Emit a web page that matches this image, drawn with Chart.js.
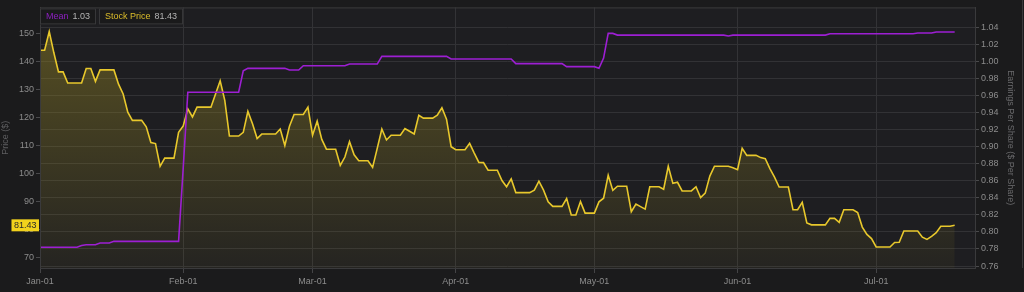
<!DOCTYPE html>
<html>
<head>
<meta charset="utf-8">
<script src="https://cdn.jsdelivr.net/npm/chart.js@4"></script>
<style>
  html, body { margin: 0; padding: 0; background: #1b1b1c; }
  #wrap { width: 1024px; height: 292px; }
</style>
</head>
<body>
<div id="wrap"><canvas id="chart" width="1024" height="292"></canvas></div>
<script>
// 每日股价 (Jan-01 起, 按日)
const stockPrice = [
    143.9, 143.9, 150.6, 143.0, 136.2, 136.2, 132.2, 132.2, 132.2, 132.2,
    137.4, 137.4, 132.8, 136.9, 136.9, 136.9, 136.9, 131.8, 128.3, 121.8,
    118.9, 118.9, 118.9, 116.6, 111.0, 110.6, 102.5, 105.4, 105.4, 105.4,
    114.6, 116.9, 123.0, 120.1, 123.6, 123.6, 123.6, 123.6, 128.3, 133.0,
    126.0, 113.3, 113.3, 113.3, 114.6, 122.1, 117.7, 112.4, 114.0, 114.0,
    114.0, 114.0, 115.8, 109.9, 116.8, 121.0, 121.0, 121.0, 123.6, 113.6,
    118.6, 112.1, 108.6, 108.6, 108.6, 102.8, 105.8, 111.3, 106.6, 104.5,
    104.5, 104.5, 102.1, 108.9, 115.8, 111.9, 113.6, 113.6, 113.6, 116.0,
    115.0, 114.0, 120.7, 119.7, 119.7, 119.7, 120.7, 123.4, 119.3, 109.5,
    108.4, 108.4, 108.4, 110.7, 107.2, 103.9, 103.8, 101.1, 101.1, 101.1,
    97.4, 95.2, 98.0, 93.1, 93.1, 93.1, 93.1, 94.0, 97.2, 94.0,
    89.8, 88.2, 88.2, 88.2, 91.0, 85.1, 85.1, 89.9, 85.8, 85.8,
    85.8, 89.8, 91.1, 99.3, 93.9, 95.4, 95.4, 95.4, 86.3, 89.0,
    88.1, 87.2, 95.2, 95.2, 95.2, 94.3, 102.5, 96.4, 96.8, 93.7,
    93.7, 93.7, 95.2, 91.3, 92.9, 99.0, 102.5, 102.5, 102.5, 102.5,
    102.0, 101.3, 108.9, 106.4, 106.4, 106.4, 105.6, 105.2, 101.7, 98.6,
    95.1, 95.1, 95.1, 87.0, 87.0, 89.6, 82.3, 81.6, 81.6, 81.6,
    81.6, 83.9, 83.9, 82.5, 87.0, 87.0, 87.0, 86.0, 80.8, 78.2,
    76.7, 73.7, 73.7, 73.7, 73.7, 75.3, 75.4, 79.4, 79.4, 79.4,
    79.4, 77.2, 76.4, 77.5, 78.8, 81.1, 81.1, 81.1, 81.43
];

// 每股收益均值 (按日)
const meanEps = [
    0.782, 0.782, 0.782, 0.782, 0.782, 0.782, 0.782, 0.782, 0.782, 0.784,
    0.785, 0.785, 0.785, 0.787, 0.787, 0.787, 0.789, 0.789, 0.789, 0.789,
    0.789, 0.789, 0.789, 0.789, 0.789, 0.789, 0.789, 0.789, 0.789, 0.789,
    0.789, 0.875, 0.964, 0.964, 0.964, 0.964, 0.964, 0.964, 0.964, 0.964,
    0.964, 0.964, 0.964, 0.964, 0.989, 0.992, 0.992, 0.992, 0.992, 0.992,
    0.992, 0.992, 0.992, 0.992, 0.990, 0.990, 0.990, 0.995, 0.995, 0.995,
    0.995, 0.995, 0.995, 0.995, 0.995, 0.995, 0.995, 0.997, 0.997, 0.997,
    0.997, 0.997, 0.997, 0.997, 1.006, 1.006, 1.006, 1.006, 1.006, 1.006,
    1.006, 1.006, 1.006, 1.006, 1.006, 1.006, 1.006, 1.006, 1.006, 1.003,
    1.003, 1.003, 1.003, 1.003, 1.003, 1.003, 1.003, 1.003, 1.003, 1.003,
    1.003, 1.003, 1.003, 0.9975, 0.9975, 0.9975, 0.9975, 0.9975, 0.9975, 0.9975,
    0.9975, 0.9975, 0.9975, 0.9975, 0.994, 0.994, 0.994, 0.994, 0.994, 0.994,
    0.994, 0.992, 1.004, 1.033, 1.033, 1.031, 1.031, 1.031, 1.031, 1.031,
    1.031, 1.031, 1.031, 1.031, 1.031, 1.031, 1.031, 1.031, 1.031, 1.031,
    1.031, 1.031, 1.031, 1.031, 1.031, 1.031, 1.031, 1.031, 1.031, 1.030,
    1.031, 1.031, 1.031, 1.031, 1.031, 1.031, 1.031, 1.031, 1.031, 1.031,
    1.031, 1.031, 1.031, 1.031, 1.031, 1.031, 1.031, 1.031, 1.031, 1.031,
    1.031, 1.0326, 1.0326, 1.0326, 1.0326, 1.0326, 1.0326, 1.0326, 1.0326, 1.0326,
    1.0326, 1.0326, 1.0326, 1.0326, 1.0326, 1.0326, 1.0326, 1.0326, 1.0326, 1.0326,
    1.0334, 1.0334, 1.0334, 1.0334, 1.0346, 1.0346, 1.0346, 1.0346, 1.0346
];

// 月份刻度 (从 Jan-01 起的天数)
const monthDays = [0, 31, 59, 90, 120, 151, 181];
const monthLabels = ['Jan-01', 'Feb-01', 'Mar-01', 'Apr-01', 'May-01', 'Jun-01', 'Jul-01'];
const priceTicks = [70, 80, 90, 100, 110, 120, 130, 140, 150];
const epsTicks = [0.76, 0.78, 0.80, 0.82, 0.84, 0.86, 0.88, 0.90, 0.92, 0.94, 0.96, 0.98, 1.00, 1.02, 1.04];

const FONT = '"Liberation Sans", Arial, sans-serif';
const YELLOW = '#e8c82c';
const PURPLE = '#9d1fd3';

const pricePoints = stockPrice.map((v, i) => ({ x: i, y: v }));
const meanPoints = meanEps.map((v, i) => ({ x: i, y: v }));

// 绘图区背景和边框
const framePlugin = {
    id: 'frame',
    beforeDraw(chart) {
        const { ctx, chartArea: a } = chart;
        ctx.save();
        ctx.fillStyle = '#1e1e21';
        ctx.fillRect(a.left, a.top, a.right - a.left, a.bottom - a.top);
        ctx.restore();
    },
    afterDraw(chart) {
        const { ctx, chartArea: a, scales } = chart;
        ctx.save();
        ctx.strokeStyle = '#3a3a3c';
        ctx.lineWidth = 1;
        ctx.strokeRect(a.left + 0.5, a.top + 0.5, a.right - a.left, a.bottom - a.top);

        // 右侧面板边线
        ctx.beginPath();
        ctx.moveTo(chart.width - 1.5, 0);
        ctx.lineTo(chart.width - 1.5, a.bottom);
        ctx.stroke();

        // 图例框
        ctx.font = '9px ' + FONT;
        ctx.textBaseline = 'middle';
        const items = [
            { name: 'Mean', color: '#8c1fc0', value: meanEps[meanEps.length - 1].toFixed(2) },
            { name: 'Stock Price', color: '#dcbd2a', value: stockPrice[stockPrice.length - 1].toFixed(2) }
        ];
        let x = a.left;
        const y = a.top + 1, h = 16;
        items.forEach(it => {
            const w1 = ctx.measureText(it.name).width;
            const w2 = ctx.measureText(it.value).width;
            const w = 6 + w1 + 4 + w2 + 6;
            ctx.fillStyle = '#1a1a1b';
            ctx.fillRect(x, y, w, h);
            ctx.strokeStyle = '#39393b';
            ctx.strokeRect(x + 0.5, y + 0.5, w - 1, h - 1);
            ctx.fillStyle = it.color;
            ctx.textAlign = 'left';
            ctx.fillText(it.name, x + 6, y + h / 2);
            ctx.fillStyle = '#b4b4b4';
            ctx.fillText(it.value, x + 6 + w1 + 4, y + h / 2);
            x += w + 3;
        });

        // 最新价格标签
        const last = stockPrice[stockPrice.length - 1];
        const py = scales.y.getPixelForValue(last);
        const label = last.toFixed(2);
        const lw = ctx.measureText(label).width + 5;
        ctx.fillStyle = '#f2d21c';
        ctx.fillRect(a.left - 1 - lw, py - 6, lw, 12);
        ctx.fillStyle = '#2a2a2a';
        ctx.textAlign = 'center';
        ctx.fillText(label, a.left - 1 - lw / 2, py + 0.5);
        ctx.restore();
    }
};

const canvas = document.getElementById('chart');
const ctx0 = canvas.getContext('2d');

new Chart(canvas, {
    type: 'line',
    data: {
        datasets: [
            {
                label: 'Mean',
                data: meanPoints,
                yAxisID: 'y1',
                borderColor: PURPLE,
                borderWidth: 1.6,
                pointRadius: 0,
                tension: 0,
                fill: false,
                order: 1
            },
            {
                label: 'Stock Price',
                data: pricePoints,
                yAxisID: 'y',
                borderColor: YELLOW,
                borderWidth: 1.6,
                pointRadius: 0,
                tension: 0,
                fill: 'start',
                backgroundColor: function (context) {
                    const a = context.chart.chartArea;
                    if (!a) return 'rgba(120,108,34,0.3)';
                    const g = ctx0.createLinearGradient(0, a.top, 0, a.bottom);
                    g.addColorStop(0, 'rgba(150,134,36,0.50)');
                    g.addColorStop(1, 'rgba(150,134,36,0.06)');
                    return g;
                },
                order: 2
            }
        ]
    },
    options: {
        responsive: false,
        animation: false,
        events: [],
        layout: { padding: { top: 4, left: 0, right: 0, bottom: 0 } },
        plugins: {
            legend: { display: false },
            tooltip: { enabled: false },
            title: { display: false }
        },
        scales: {
            x: {
                type: 'linear',
                min: 0,
                max: 202.4,
                afterBuildTicks: function (axis) {
                    axis.ticks = monthDays.map(v => ({ value: v }));
                },
                afterFit: function (axis) { axis.height = 24; },
                ticks: {
                    color: '#8c8c8c',
                    font: { family: FONT, size: 9 },
                    padding: 3,
                    maxRotation: 0,
                    autoSkip: false,
                    callback: function (value) {
                        const i = monthDays.indexOf(value);
                        return i >= 0 ? monthLabels[i] : '';
                    }
                },
                grid: { color: '#333336', tickColor: '#444446', tickLength: 5 },
                border: { color: '#3a3a3c' }
            },
            y: {
                position: 'left',
                min: 66.2,
                max: 159.2,
                afterBuildTicks: function (axis) {
                    axis.ticks = priceTicks.map(v => ({ value: v }));
                },
                afterFit: function (axis) { axis.width = 40; },
                ticks: {
                    color: '#8c8c8c',
                    font: { family: FONT, size: 9 },
                    padding: 2
                },
                grid: { drawOnChartArea: false, tickColor: '#4a4a4c', tickLength: 4 },
                border: { color: '#3a3a3c' },
                title: {
                    display: true,
                    text: 'Price ($)',
                    color: '#5e5e60',
                    font: { family: FONT, size: 9 },
                    padding: { top: 0, bottom: 0 }
                }
            },
            y1: {
                position: 'right',
                min: 0.7577,
                max: 1.0635,
                afterBuildTicks: function (axis) {
                    axis.ticks = epsTicks.map(v => ({ value: v }));
                },
                afterFit: function (axis) { axis.width = 49; },
                ticks: {
                    color: '#8c8c8c',
                    font: { family: FONT, size: 9 },
                    padding: 2,
                    callback: function (value) { return Number(value).toFixed(2); }
                },
                grid: { color: '#323235', tickColor: '#4a4a4c', tickLength: 4 },
                border: { color: '#3a3a3c' },
                title: {
                    display: true,
                    text: 'Earnings Per Share ($ Per Share)',
                    color: '#6a6a6c',
                    font: { family: FONT, size: 9 },
                    padding: { top: 8, bottom: 0 }
                }
            }
        }
    },
    plugins: [framePlugin]
});
</script>
</body>
</html>
